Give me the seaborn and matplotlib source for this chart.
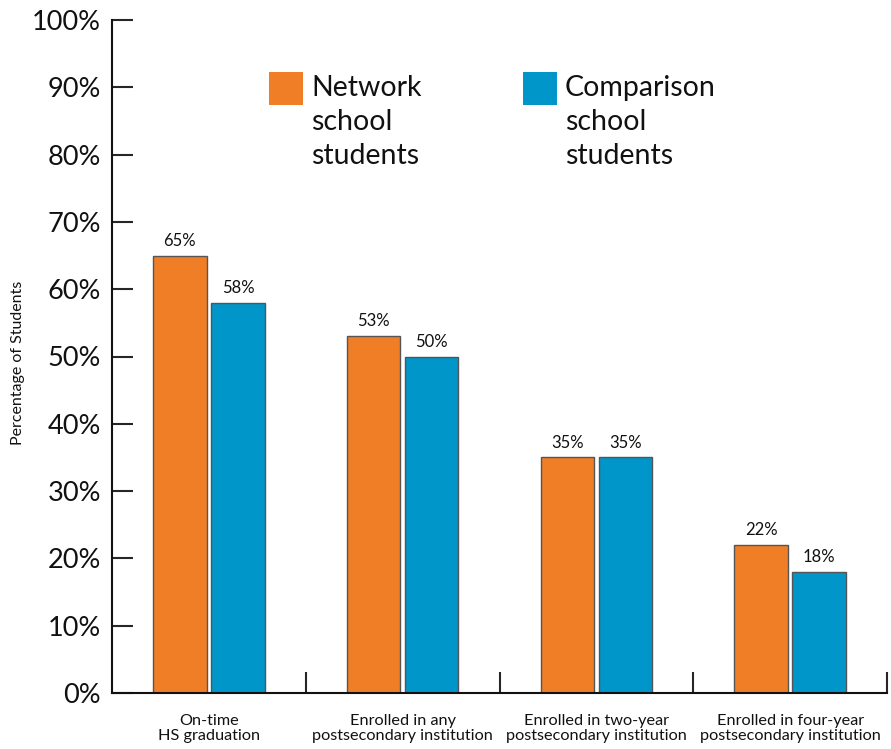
import matplotlib
matplotlib.use("Agg")
import matplotlib.pyplot as plt
import seaborn as sns
import pandas as pd
from matplotlib.patches import Rectangle
from matplotlib.ticker import FixedLocator

categories = ["On-time\nHS graduation",
              "Enrolled in any\npostsecondary institution",
              "Enrolled in two-year\npostsecondary institution",
              "Enrolled in four-year\npostsecondary institution"]
network = [65, 53, 35, 22]
comparison = [58, 50, 35, 18]
series_names = ["Network\nschool\nstudents", "Comparison\nschool\nstudents"]
yticks = [0, 10, 20, 30, 40, 50, 60, 70, 80, 90, 100]

ORANGE = "#F07E26"
BLUE = "#0096C9"

sns.set_theme(style="white")
plt.rcParams['font.family'] = ['Lato', 'DejaVu Sans']

df = pd.DataFrame({
    "category": categories * 2,
    "value": network + comparison,
    "series": [series_names[0]] * 4 + [series_names[1]] * 4,
})

fig = plt.figure(figsize=(8.91, 7.49), dpi=100)
ax = fig.add_axes([112/891, 1-693/749, (887-112)/891, (693-20)/749])

sns.barplot(data=df, x="category", y="value", hue="series",
            palette=[ORANGE, BLUE], saturation=1, width=0.60, gap=0.08,
            edgecolor="#555555", linewidth=1.0, legend=False, ax=ax)

for cont in ax.containers:
    ax.bar_label(cont, labels=[f"{v:.0f}%" for v in cont.datavalues],
                 padding=5, fontsize=12, color="#111111")

ax.set_xlim(-0.5, 3.5)
ax.set_ylim(0, 100)
ax.set_yticks(yticks)
ax.set_yticklabels([f"{t}%" for t in yticks], fontsize=19.5, color="#111111")
ax.set_xlabel("")
ax.set_ylabel("Percentage of Students", fontsize=11.5, color="#111111")
ax.yaxis.set_label_coords((25 - 112) / 775, 0.49)

ax.tick_params(axis="y", direction="in", length=15, width=1.5, pad=8, left=True)
ax.tick_params(axis="x", which="major", length=0, pad=15, labelsize=11.7, labelcolor="#111111")
ax.xaxis.set_minor_locator(FixedLocator([0.5, 1.5, 2.5, 3.5]))
ax.tick_params(axis="x", which="minor", direction="in", length=15, width=1.5, bottom=True)
for lab in ax.get_xticklabels():
    lab.set_linespacing(1.15)

for s in ["top", "right"]:
    ax.spines[s].set_visible(False)
for s in ["left", "bottom"]:
    ax.spines[s].set_color("#111111")
    ax.spines[s].set_linewidth(1.5)
ax.grid(False)

# legend drawn in figure pixel coordinates
W, H = 891, 749
def fx(px): return px / W
def fy(py): return 1 - py / H
for (x0, color, name) in [(269, ORANGE, series_names[0]), (523, BLUE, series_names[1])]:
    fig.patches.append(Rectangle((fx(x0), fy(105)), 34 / W, 33 / H,
                                 transform=fig.transFigure, facecolor=color,
                                 edgecolor="none", zorder=5))
    fig.text(fx(x0 + 42), fy(75), name, fontsize=20.5, color="#111111",
             va="top", ha="left", linespacing=1.38)

fig.savefig("out.png", dpi=100)
